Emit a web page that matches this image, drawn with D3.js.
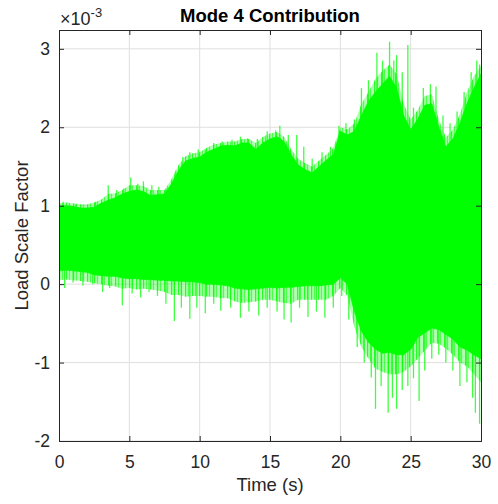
<!DOCTYPE html>
<html>
<head>
<meta charset="utf-8">
<script src="https://cdn.jsdelivr.net/npm/d3@7"></script>
<style>
  body { margin: 0; background: #fff; }
  svg { display: block; font-family: "Liberation Sans", Arial, Helvetica, sans-serif; }
</style>
</head>
<body>
<svg id="chart" width="498" height="504"></svg>
<script>
// envelope of the signal, sampled every 0.5 s (values in units of 1e-3)
const times = d3.range(0, 30.001, 0.5);
const coreHigh = [
  0.99, 1.00, 0.99, 0.97, 0.97, 0.98, 1.03, 1.07, 1.10, 1.15,
  1.18, 1.20, 1.18, 1.13, 1.14, 1.15, 1.28, 1.45, 1.57, 1.60,
  1.62, 1.68, 1.72, 1.76, 1.77, 1.76, 1.80, 1.80, 1.72, 1.80,
  1.85, 1.88, 1.82, 1.65, 1.52, 1.46, 1.42, 1.50, 1.58, 1.65,
  1.95, 1.90, 1.95, 2.15, 2.33, 2.45, 2.55, 2.65, 2.50, 2.15,
  1.97, 2.10, 2.28, 2.30, 2.00, 1.75, 1.85, 2.05, 2.30, 2.50, 2.68
];
const coreLow = [
  0.17, 0.18, 0.17, 0.16, 0.15, 0.12, 0.11, 0.10, 0.10, 0.08,
  0.07, 0.07, 0.06, 0.06, 0.05, 0.05, 0.04, 0.04, 0.03, 0.03,
  0.02, 0.00, 0.00, -0.01, -0.02, -0.05, -0.06, -0.07, -0.06, -0.05,
  -0.04, -0.05, -0.04, -0.04, -0.03, -0.02, -0.02, -0.02, -0.01, 0.00,
  0.08, 0.00, -0.35, -0.60, -0.74, -0.83, -0.88, -0.87, -0.90, -0.90,
  -0.83, -0.68, -0.62, -0.56, -0.58, -0.64, -0.70, -0.80, -0.84, -0.90, -0.95
];
// thinner fringe of dense spikes around the core, same time grid
const fringeHigh = [
  1.03, 1.04, 1.03, 1.02, 1.02, 1.04, 1.08, 1.15, 1.16, 1.20,
  1.26, 1.26, 1.25, 1.20, 1.20, 1.20, 1.34, 1.52, 1.63, 1.67,
  1.68, 1.74, 1.78, 1.80, 1.82, 1.82, 1.85, 1.85, 1.80, 1.88,
  1.92, 1.94, 1.88, 1.72, 1.60, 1.54, 1.50, 1.58, 1.65, 1.74,
  2.00, 1.97, 2.05, 2.30, 2.45, 2.62, 2.72, 2.80, 2.68, 2.30,
  2.10, 2.22, 2.40, 2.42, 2.10, 1.87, 1.97, 2.17, 2.45, 2.65, 2.78
];
const fringeLow = [
  0.05, 0.06, 0.05, 0.04, 0.03, 0.01, 0.00, -0.02, -0.03, -0.06,
  -0.05, -0.07, -0.06, -0.07, -0.08, -0.10, -0.14, -0.14, -0.16, -0.15,
  -0.15, -0.16, -0.16, -0.18, -0.18, -0.22, -0.24, -0.23, -0.22, -0.20,
  -0.20, -0.22, -0.24, -0.25, -0.20, -0.20, -0.20, -0.20, -0.20, -0.15,
  -0.05, -0.15, -0.55, -0.80, -0.95, -1.08, -1.12, -1.15, -1.15, -1.12,
  -1.05, -0.95, -0.85, -0.75, -0.76, -0.82, -0.90, -1.00, -1.05, -1.15, -1.25
];

// isolated peaks poking out of the envelope: [time, value]
const peaksUp = [
  [0.3, 1.05], [1.2, 1.02], [2.6, 1.05], [3.5, 1.26], [4.1, 1.2], [4.6, 1.22],
  [5.1, 1.36], [5.6, 1.28], [6.0, 1.31], [6.6, 1.26], [7.1, 1.24], [7.6, 1.22],
  [8.3, 1.45], [8.8, 1.62], [9.3, 1.68], [9.9, 1.72], [10.4, 1.72], [11.0, 1.8],
  [11.6, 1.82], [12.3, 1.84], [12.9, 1.88], [13.4, 1.86], [14.1, 1.85], [14.8, 1.95],
  [15.4, 1.96], [15.7, 2.02], [16.3, 1.9], [16.9, 1.9], [17.4, 1.75], [18.0, 1.6],
  [18.7, 1.68], [19.3, 1.75], [19.9, 2.02], [20.4, 2.05], [21.0, 2.1], [21.5, 2.5],
  [22.0, 2.6], [22.6, 2.95], [23.0, 2.85], [23.5, 3.09], [23.8, 2.85], [24.0, 2.92],
  [24.4, 2.7], [24.8, 3.05], [25.2, 2.25], [25.9, 2.5], [26.4, 2.55], [26.8, 2.52],
  [27.3, 2.15], [27.8, 2.05], [28.3, 2.2], [28.8, 2.45], [29.3, 2.7], [29.7, 2.85], [29.9, 2.8]
];
const peaksDown = [
  [0.4, -0.05], [1.0, 0.02], [1.7, -0.02], [2.4, 0.0], [3.1, -0.1], [3.6, -0.05],
  [4.5, -0.27], [5.2, -0.12], [5.8, -0.17], [6.4, -0.1], [7.0, -0.15], [7.6, -0.25],
  [8.2, -0.47], [8.7, -0.3], [9.3, -0.44], [9.8, -0.3], [10.4, -0.37], [11.0, -0.25],
  [11.5, -0.34], [12.2, -0.3], [12.9, -0.43], [13.5, -0.35], [14.2, -0.4], [14.8, -0.3],
  [15.5, -0.35], [16.0, -0.45], [16.5, -0.49], [17.1, -0.3], [17.7, -0.42], [18.3, -0.35],
  [18.9, -0.43], [19.5, -0.3], [20.1, -0.15], [20.6, -0.45], [21.2, -0.8], [21.7, -1.0],
  [22.2, -1.19], [22.5, -1.59], [22.9, -1.3], [23.4, -1.64], [23.7, -1.45], [24.0, -1.59],
  [24.4, -1.35], [24.8, -1.3], [25.2, -1.2], [25.6, -1.49], [26.0, -1.1], [26.5, -0.95],
  [27.0, -0.9], [27.5, -1.0], [28.0, -1.1], [28.5, -1.3], [29.0, -1.25], [29.4, -1.45],
  [29.6, -1.64], [29.9, -1.78]
];

const xTicks = [0, 5, 10, 15, 20, 25, 30];
const yTicks = [-2, -1, 0, 1, 2, 3];

const margin = { top: 30, right: 17, bottom: 63, left: 59 };
const width = 498 - margin.left - margin.right;
const height = 504 - margin.top - margin.bottom;
const ink = "#262626";
const green = "#00ff00";

const svg = d3.select("#chart");
const g = svg.append("g").attr("transform", `translate(${margin.left},${margin.top})`);

const x = d3.scaleLinear().domain([0, 30]).range([0, width]);
const y = d3.scaleLinear().domain([-2, 3.24]).range([height, 0]);

g.append("clipPath").attr("id", "clip")
  .append("rect").attr("width", width).attr("height", height);

// striped fill for the fringe: thin vertical spikes, uneven spacing
const pat = svg.append("defs").append("pattern")
    .attr("id", "spikes").attr("patternUnits", "userSpaceOnUse")
    .attr("width", 7).attr("height", 10);
pat.append("rect").attr("x", 0).attr("width", 1.5).attr("height", 10).attr("fill", green).attr("opacity", 0.85);
pat.append("rect").attr("x", 2.5).attr("width", 2).attr("height", 10).attr("fill", green).attr("opacity", 0.7);
pat.append("rect").attr("x", 5.5).attr("width", 1).attr("height", 10).attr("fill", green).attr("opacity", 0.6);

// grid
g.append("g").selectAll("line").data(xTicks.slice(1, -1)).join("line")
    .attr("x1", d => x(d)).attr("x2", d => x(d))
    .attr("y1", 0).attr("y2", height)
    .attr("stroke", "#dfdfdf");
g.append("g").selectAll("line").data(yTicks).join("line")
    .attr("x1", 0).attr("x2", width)
    .attr("y1", d => y(d)).attr("y2", d => y(d))
    .attr("stroke", "#dfdfdf");

const plot = g.append("g").attr("clip-path", "url(#clip)");

// peaks first so the solid band sits over their roots
const mid = i => (coreHigh[i] + coreLow[i]) / 2;
const nearest = t => Math.min(times.length - 1, Math.round(t / 0.5));
plot.append("g").selectAll("line").data(peaksUp.concat(peaksDown)).join("line")
    .attr("x1", d => x(d[0])).attr("x2", d => x(d[0]))
    .attr("y1", d => y(mid(nearest(d[0])))).attr("y2", d => y(d[1]))
    .attr("stroke", green).attr("stroke-opacity", 0.75).attr("stroke-width", 1.3);

const fringe = d3.area()
    .x((d, i) => x(times[i]))
    .y0((d, i) => y(fringeLow[i]))
    .y1((d, i) => y(fringeHigh[i]));
plot.append("path").datum(times)
    .attr("d", fringe)
    .attr("fill", "url(#spikes)");

const band = d3.area()
    .x((d, i) => x(times[i]))
    .y0((d, i) => y(coreLow[i]))
    .y1((d, i) => y(coreHigh[i]));
plot.append("path").datum(times)
    .attr("d", band)
    .attr("fill", green)
    .attr("stroke", green)
    .attr("stroke-width", 0.8);

// axes box with inward ticks on all four sides
const xAxis = d3.axisBottom(x).tickValues(xTicks).tickSize(-5).tickPadding(15).tickFormat(d => String(d));
const yAxis = d3.axisLeft(y).tickValues(yTicks).tickSize(-5).tickPadding(9).tickFormat(d => String(d));

const xa = g.append("g").attr("transform", `translate(0,${height})`).call(xAxis);
const ya = g.append("g").call(yAxis);
g.append("g").call(d3.axisTop(x).tickValues(xTicks).tickSize(-5).tickFormat(""));
g.append("g").attr("transform", `translate(${width},0)`)
  .call(d3.axisRight(y).tickValues(yTicks).tickSize(-5).tickFormat(""));

g.selectAll(".domain").attr("stroke", ink);
g.selectAll(".tick line").attr("stroke", ink);
[xa, ya].forEach(a => a.selectAll("text")
    .attr("fill", ink).attr("font-size", 17.5).attr("font-family", "Liberation Sans, Arial, sans-serif"));
xa.selectAll("text").attr("dy", "0.71em");

// exponent marker
const expo = svg.append("text")
    .attr("x", margin.left + 1).attr("y", 25)
    .attr("fill", ink).attr("font-size", 18);
expo.append("tspan").text("\u00d710");
expo.append("tspan").attr("dy", -8).attr("font-size", 13).text("-3");

svg.append("text")
    .attr("x", margin.left + width / 2).attr("y", 22)
    .attr("text-anchor", "middle").attr("font-weight", "bold")
    .attr("font-size", 18.5).attr("fill", "#000")
    .text("Mode 4 Contribution");

svg.append("text")
    .attr("x", margin.left + width / 2).attr("y", 491)
    .attr("text-anchor", "middle").attr("font-size", 18.5).attr("fill", ink)
    .text("Time (s)");

svg.append("text")
    .attr("transform", `translate(28,${margin.top + height / 2}) rotate(-90)`)
    .attr("text-anchor", "middle").attr("font-size", 18.5).attr("fill", ink)
    .text("Load Scale Factor");
</script>
</body>
</html>
